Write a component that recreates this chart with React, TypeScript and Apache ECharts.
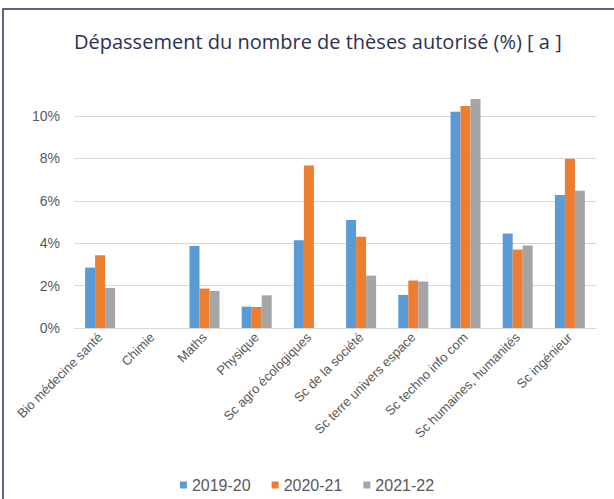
import React, { useEffect, useRef } from "react";
import * as echarts from "echarts";

const categories = [
  "Bio médecine santé",
  "Chimie",
  "Maths",
  "Physique",
  "Sc agro écologiques",
  "Sc de la société",
  "Sc terre univers espace",
  "Sc techno info com",
  "Sc humaines, humanités",
  "Sc ingénieur",
];
const seriesNames = ["2019-20", "2020-21", "2021-22"];
const s2019 = [2.85, null, 3.87, 1.01, 4.14, 5.1, 1.56, 10.2, 4.46, 6.27];
const s2020 = [3.43, null, 1.86, 0.99, 7.67, 4.3, 2.24, 10.47, 3.7, 7.98];
const s2021 = [1.89, null, 1.75, 1.54, null, 2.47, 2.19, 10.8, 3.89, 6.47];
const yTicks = { min: 0, max: 12, interval: 2 };
const colors = ["#5b9bd5", "#ed7d31", "#a5a5a5"];
const titleText = "Dépassement du nombre de thèses autorisé (%) [ a ]";

export default function App() {
  const ref = useRef<HTMLDivElement>(null);
  useEffect(() => {
    if (!ref.current) return;
    const chart = echarts.init(ref.current, null, { renderer: "svg" });
    const data = [s2019, s2020, s2021];
    chart.setOption({
      animation: false,
      backgroundColor: "#ffffff",
      title: {
        text: titleText,
        left: 69,
        top: 26,
        textStyle: {
          fontFamily: "Open Sans",
          fontSize: 20,
          fontWeight: "normal",
          color: "#2c3152",
        },
      },
      graphic: [
        {
          type: "rect",
          shape: { x: 3, y: 9, width: 800, height: 700 },
          style: { fill: "none", stroke: "#2e3358", lineWidth: 1.5 },
          silent: true,
        },
      ],
      legend: {
        data: seriesNames,
        top: 472,
        left: "center",
        icon: "rect",
        itemWidth: 7,
        itemHeight: 7,
        itemGap: 21,
        textStyle: { fontFamily: "Liberation Sans", fontSize: 16, color: "#595959" },
      },
      grid: { left: 74, right: 18, top: 73.6, bottom: 171, containLabel: false },
      xAxis: {
        type: "category",
        data: categories,
        axisLine: { show: true, lineStyle: { color: "#d9d9d9", width: 1 } },
        axisTick: { show: false },
        axisLabel: {
          interval: 0,
          rotate: 45,
          margin: 7,
          fontFamily: "Liberation Sans",
          fontSize: 13,
          color: "#595959",
        },
      },
      yAxis: {
        type: "value",
        min: yTicks.min,
        max: yTicks.max,
        interval: yTicks.interval,
        axisLine: { show: false },
        axisTick: { show: false },
        axisLabel: {
          margin: 14,
          showMaxLabel: false,
          formatter: (v: number) => (v >= yTicks.max ? "" : `${v}%`),
          fontFamily: "Liberation Sans",
          fontSize: 14,
          color: "#595959",
        },
        splitLine: {
          show: true,
          showMaxLine: false,
          lineStyle: { color: "#d9d9d9", width: 1 },
        },
      },
      series: seriesNames.map((name, i) => ({
        name,
        type: "bar",
        data: data[i],
        barWidth: 10,
        barGap: "0%",
        itemStyle: { color: colors[i] },
      })),
    });
    return () => chart.dispose();
  }, []);
  return (
    <div
      ref={ref}
      style={{ position: "fixed", left: 0, top: 0, width: 614, height: 499, background: "#fff" }}
    />
  );
}
